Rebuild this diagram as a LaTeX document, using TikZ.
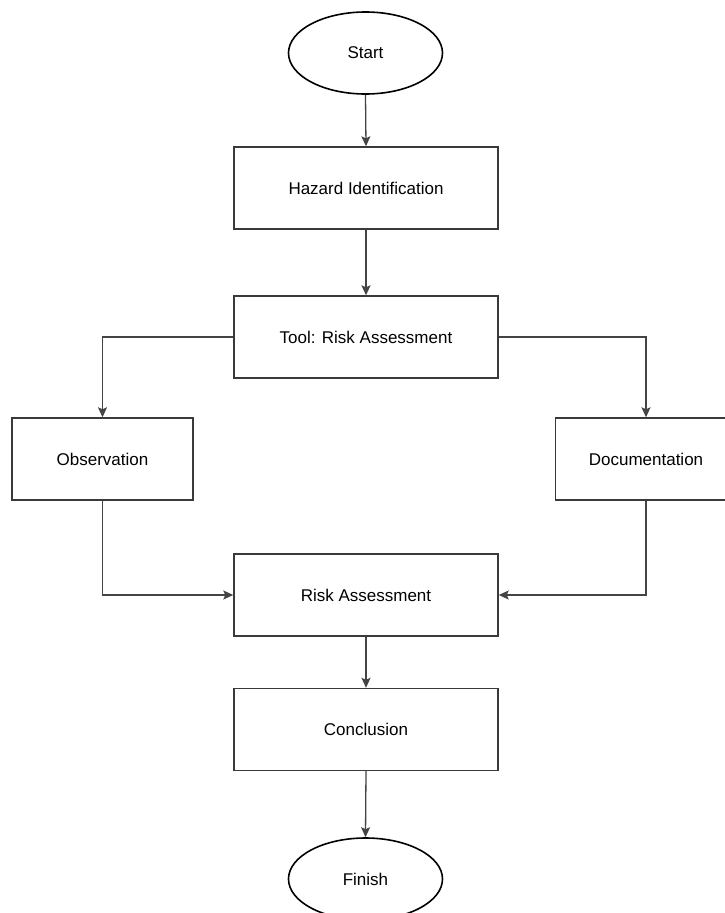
\documentclass[tikz,border=0pt]{standalone}
\usepackage{fontspec}
\setmainfont{Liberation Sans}
\usetikzlibrary{arrows.meta,shapes.geometric}
\definecolor{boxgray}{HTML}{3A3A3A}
\definecolor{linegray}{HTML}{444444}
\begin{document}
\begin{tikzpicture}[x=1pt,y=-1pt,
  lbl/.style={font=\fontsize{17}{20}\selectfont, text=black},
  box/.style={lbl, rectangle, draw=boxgray, line width=1.4pt, minimum width=264pt, minimum height=82pt, inner sep=0pt},
  sidebox/.style={box, minimum width=181pt},
  term/.style={lbl, ellipse, draw=black, line width=1.6pt, minimum width=154pt, minimum height=82pt, inner sep=0pt},
  conn/.style={draw=linegray, line width=1.3pt, -{Stealth[length=10pt,width=9pt,inset=2pt]}}]
\useasboundingbox (0,0) rectangle (725,913);
\clip (0,0) rectangle (725,913);
\fill[white] (0,0) rectangle (725,913);
\node[term] (start) at (365.5,53) {Start};
\node[box] (hazard) at (366,188) {Hazard Identification};
\node[box] (tool) at (366,337) {Tool: Risk Assessment};
\node[sidebox] (obs) at (102.5,459) {Observation};
\node[sidebox] (doc) at (646,459) {Documentation};
\node[box] (risk) at (366,595) {Risk Assessment};
\node[box] (concl) at (366,729.5) {Conclusion};
\node[term] (finish) at (365.5,879) {Finish};
\draw[conn] (start.south) -- (hazard.north);
\draw[conn] (hazard.south) -- (tool.north);
\draw[conn] (tool.west) -| (obs.north);
\draw[conn] (tool.east) -| (doc.north);
\draw[conn] (obs.south) |- (risk.west);
\draw[conn] (doc.south) |- (risk.east);
\draw[conn] (risk.south) -- (concl.north);
\draw[conn] (concl.south) -- (finish.north);
\end{tikzpicture}
\end{document}
